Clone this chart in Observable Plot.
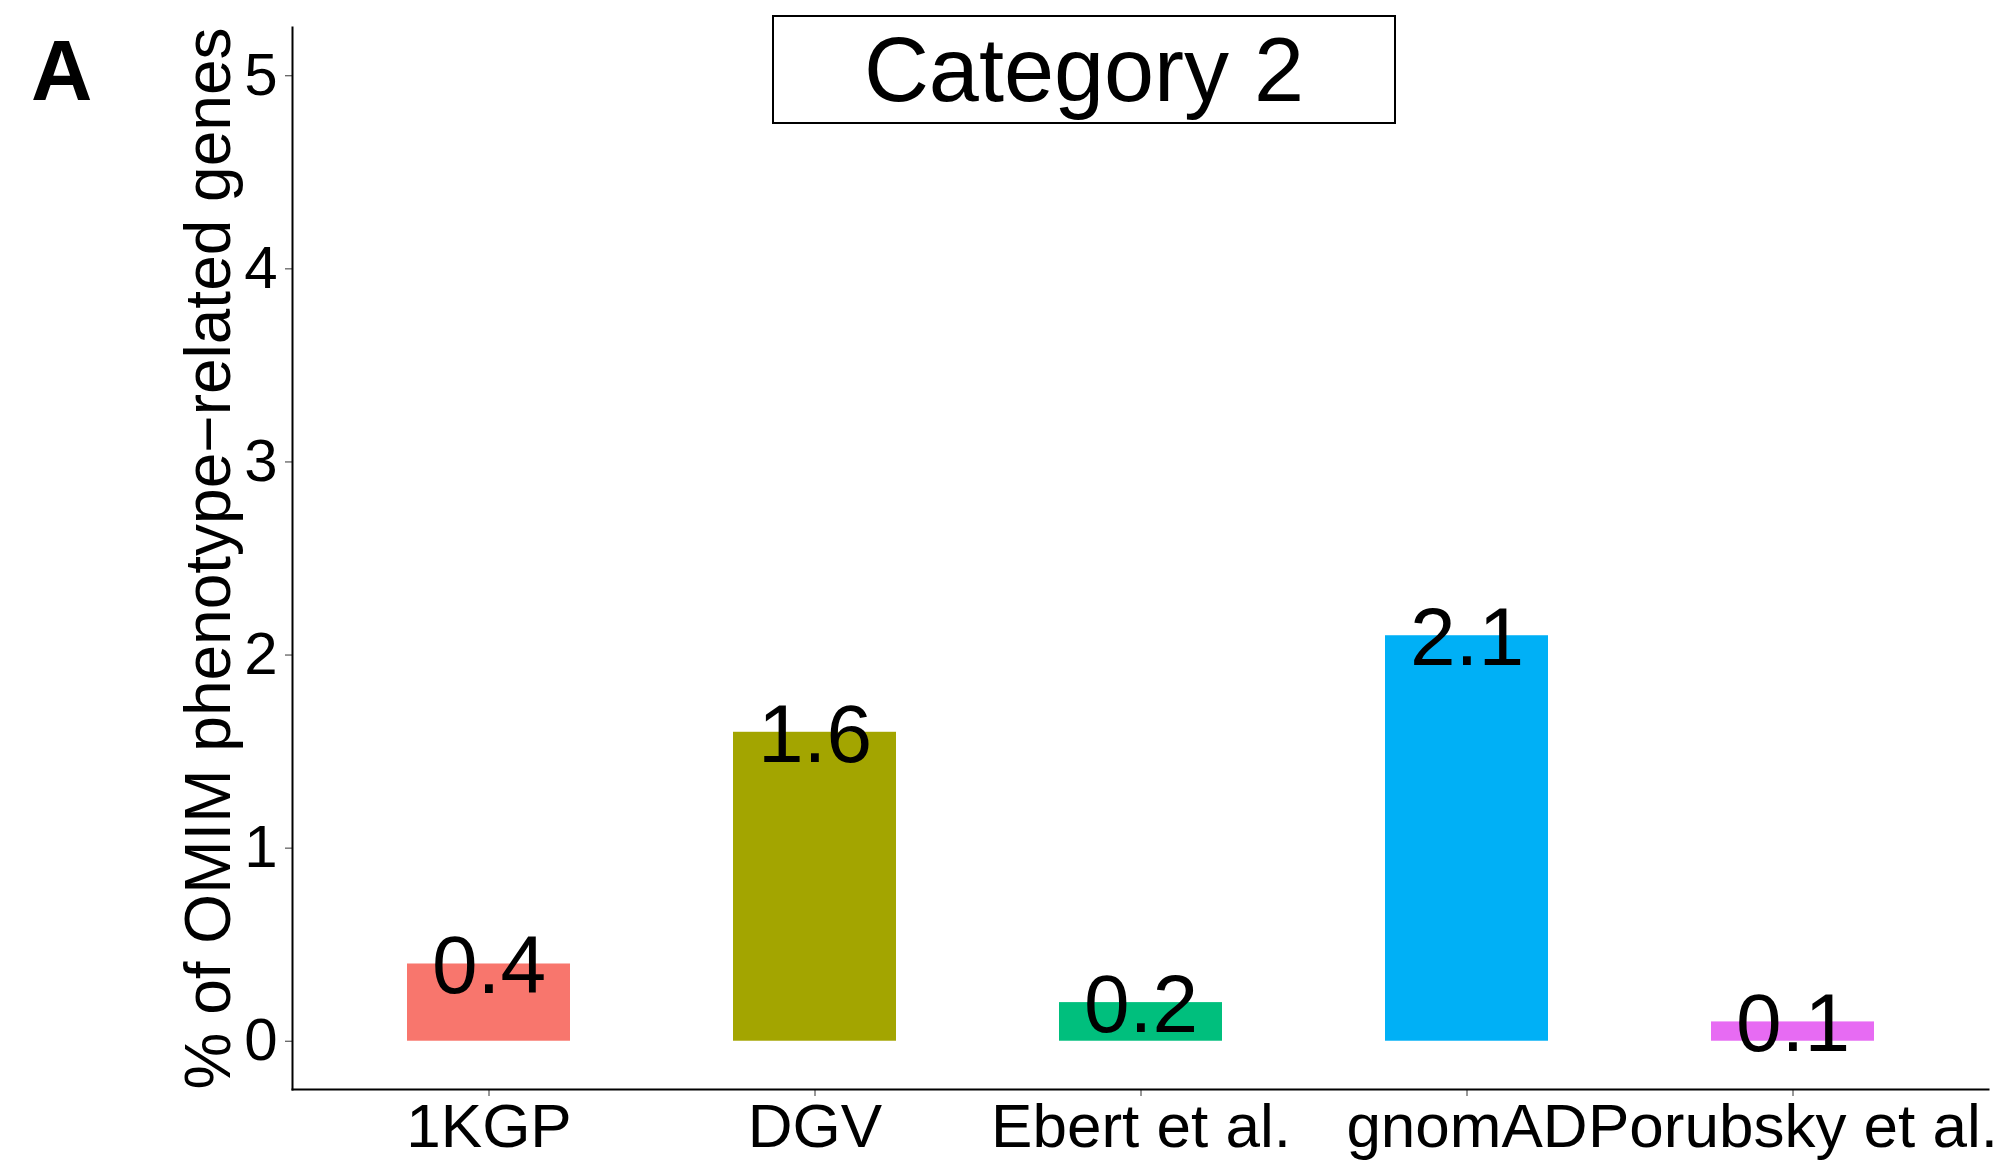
<!DOCTYPE html>
<html>
<head>
<meta charset="utf-8">
<script src="https://cdn.jsdelivr.net/npm/d3@7"></script>
<script src="https://cdn.jsdelivr.net/npm/@observablehq/plot@0.6"></script>
<style>
  html, body { margin: 0; padding: 0; background: #fff; }
  #wrap { position: relative; width: 2008px; height: 1167px; font-family: "Liberation Sans", Arial, Helvetica, sans-serif; }
  #letter { position: absolute; left: 31px; top: 28px; font-size: 85px; font-weight: bold; line-height: 1; color: #000; }
  #titlebox { position: absolute; left: 772px; top: 15px; width: 620px; height: 105px; border: 2px solid #000; box-sizing: content-box;
              display: flex; align-items: center; justify-content: center; font-size: 90px; line-height: 1; color: #000; }
</style>
</head>
<body>
<div id="wrap">
  <div id="chart"></div>
  <div id="letter"></div>
  <div id="titlebox"></div>
</div>
<script>
const datasets = ["1KGP", "DGV", "Ebert et al.", "gnomAD", "Porubsky et al."];
const percentages = [0.4, 1.6, 0.2, 2.1, 0.1];
const barColors = ["#F8766D", "#A3A500", "#00BF7D", "#00B0F6", "#E76BF3"];
const yTicks = [0, 1, 2, 3, 4, 5];
const panelTitle = "Category 2";
const panelLetter = "A";
const yLabel = "% of OMIM phenotype\u2212related genes";

const data = datasets.map((d, i) => ({dataset: d, pct: percentages[i]}));

const chart = Plot.plot({
  width: 2008,
  height: 1167,
  marginTop: 27,
  marginBottom: 78,
  marginLeft: 292,
  marginRight: 20,
  style: {fontFamily: "'Liberation Sans', Arial, Helvetica, sans-serif", background: "white", color: "black"},
  x: {type: "band", domain: datasets, paddingInner: 0.5, paddingOuter: 0.35},
  y: {domain: [-0.25, 5.25]},
  color: {domain: datasets, range: barColors},
  marks: [
    Plot.barY(data, {x: "dataset", y: "pct", fill: "dataset"}),
    Plot.text(data, {x: "dataset", y: "pct", text: d => d.pct.toFixed(1), fontSize: 82, fill: "black", dy: 3}),
    Plot.axisX({tickSize: 7, tickPadding: 6, fontSize: 62, label: null, stroke: "#333", fill: "black"}),
    Plot.axisY({ticks: yTicks, tickSize: 7, tickPadding: 8, fontSize: 60, label: null, stroke: "#333", fill: "black", tickFormat: d3.format("d")}),
    Plot.axisY({ticks: [], tickSize: 0, fontSize: 64, label: yLabel, labelAnchor: "center", labelOffset: 108, labelArrow: "none", fill: "black"}),
    Plot.frame({anchor: "left", stroke: "black", strokeWidth: 2}),
    Plot.frame({anchor: "bottom", stroke: "black", strokeWidth: 2})
  ]
});
document.getElementById("chart").appendChild(chart);
document.getElementById("letter").textContent = panelLetter;
document.getElementById("titlebox").textContent = panelTitle;
</script>
</body>
</html>
